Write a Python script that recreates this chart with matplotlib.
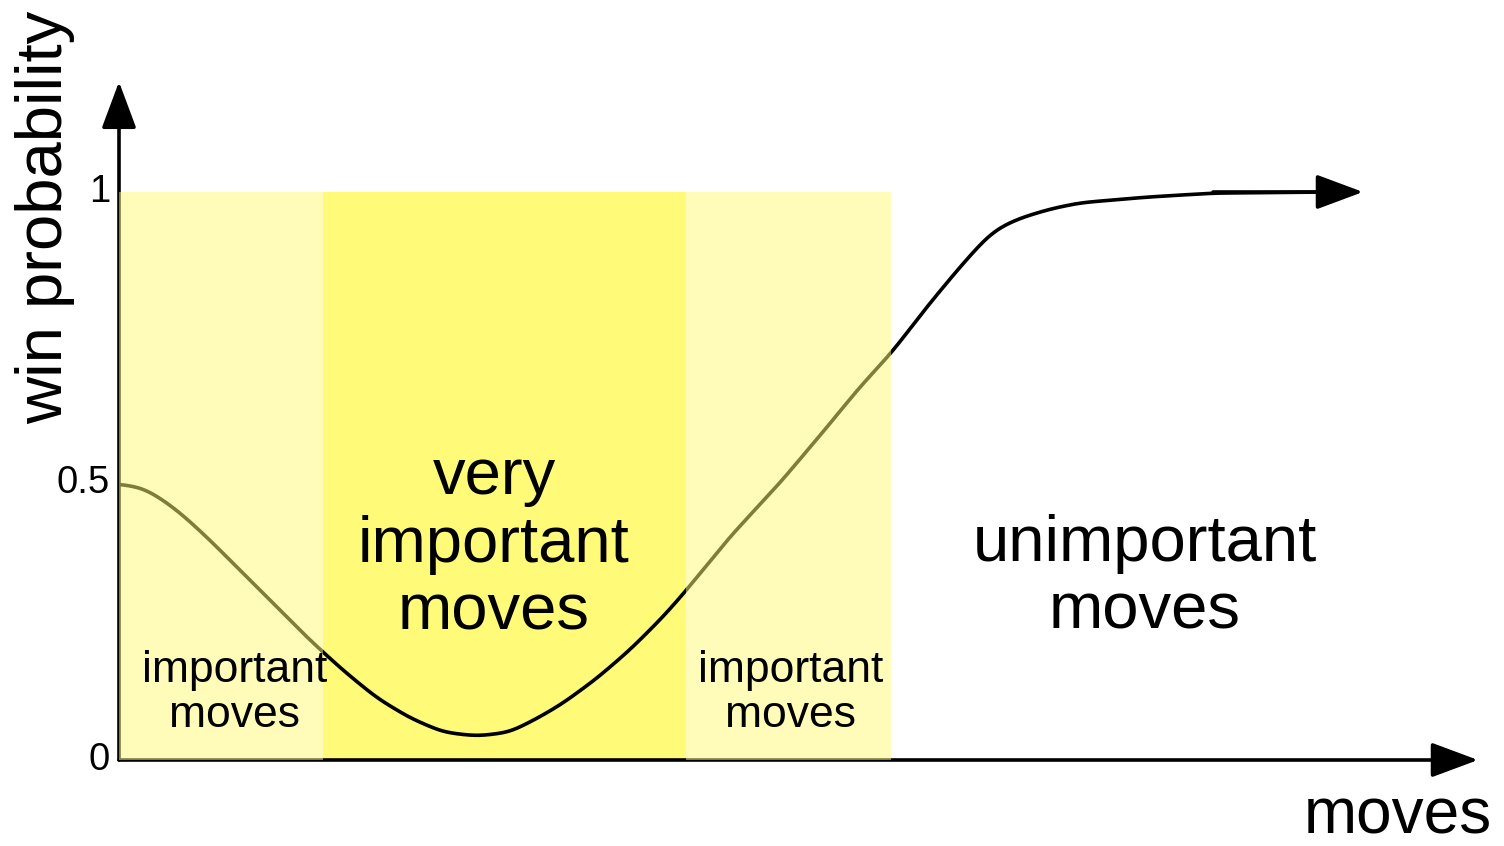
import matplotlib

matplotlib.use("Agg")
import matplotlib.pyplot as plt
import numpy as np

# curve: moves (arbitrary units) vs win probability
moves = [0, 0.24, 0.44, 0.64, 0.91, 1.24, 1.58, 1.91, 2.24, 2.58, 2.91, 3.24,
         3.58, 3.91, 4.21, 4.44, 4.78, 5.11, 5.44, 5.66, 6.11, 6.61, 7.08,
         7.41, 7.73, 8.08, 8.41, 8.68, 8.81, 9.01, 9.31, 9.61, 10.28, 10.94,
         12.08]
win_prob = [0.486, 0.479, 0.458, 0.431, 0.387, 0.329, 0.269, 0.211, 0.158,
            0.109, 0.074, 0.049, 0.042, 0.049, 0.076, 0.100, 0.144, 0.194,
            0.252, 0.296, 0.393, 0.488, 0.586, 0.657, 0.718, 0.798, 0.868,
            0.921, 0.938, 0.954, 0.970, 0.981, 0.991, 0.998, 1.0]
curve_tip = 12.44

# shaded phases: (start, end)
side_regions = [(0.0, 2.04), (5.67, 7.72)]
core_region = (2.04, 5.67)
region_top = 1.0

ytick_pos = [0, 0.487, 1]
ytick_labels = ["0", "0.5", "1"]

x_axis_end = 13.59
y_axis_end = 1.194

YELLOW = "#FFFA77"
FONT = "Liberation Sans"


def smooth_curve(x, y, step=0.005, sigma=0.09):
    """Dense resample of the read points, lightly smoothed (rendering only)."""
    xs = np.arange(x[0], x[-1] + step / 2, step)
    ys = np.interp(xs, x, y)
    half = int(4 * sigma / step)
    k = np.exp(-0.5 * (np.arange(-half, half + 1) * step / sigma) ** 2)
    k /= k.sum()
    padded = np.concatenate([np.full(half, ys[0]), ys, np.full(half, ys[-1])])
    return xs, np.convolve(padded, k, mode="valid")


fig = plt.figure(figsize=(15.04, 8.46), dpi=100)
ax = fig.add_axes([0, 0, 1, 1])
ax.set_xlim(-1.19, 13.85)
ax.set_ylim(-0.1514, 1.338)
ax.axis("off")

# bright core band sits under the curve, pale bands wash over it
ax.bar(core_region[0], region_top, width=core_region[1] - core_region[0],
       align="edge", color=YELLOW, zorder=1, linewidth=0)
for x0, x1 in side_regions:
    ax.bar(x0, region_top, width=x1 - x0, align="edge", color=YELLOW,
           alpha=0.5, zorder=3, linewidth=0)

arrow_kw = dict(arrowstyle="-|>,head_length=2.9,head_width=1.08",
                color="black", lw=2.6, shrinkA=0, shrinkB=0,
                mutation_scale=10)
ax.annotate("", xy=(x_axis_end, 0), xytext=(0, 0), arrowprops=arrow_kw,
            zorder=2)
ax.annotate("", xy=(0, y_axis_end), xytext=(0, 0), arrowprops=arrow_kw,
            zorder=2)

sx, sy = smooth_curve(moves, win_prob)
ax.plot(sx, sy, color="black", lw=2.6, solid_capstyle="butt", zorder=2)
ax.annotate("", xy=(curve_tip, win_prob[-1]),
            xytext=(moves[-2], win_prob[-1]), arrowprops=arrow_kw, zorder=2)

for pos, lab in zip(ytick_pos, ytick_labels):
    ax.text(-0.09, pos, lab, ha="right", va="center", fontsize=27.5,
            family=FONT, zorder=4)

ax.text(-0.74, 0.956, "win probability", rotation=90, ha="center",
        va="center", fontsize=47, family=FONT, zorder=4)
ax.text(12.79, -0.130, "moves", ha="center", va="baseline", fontsize=46,
        family=FONT, zorder=4)

ax.text(3.75, 0.379, "very\nimportant\nmoves", ha="center", va="center",
        fontsize=47, family=FONT, linespacing=1.16, zorder=4)
ax.text(10.26, 0.320, "unimportant\nmoves", ha="center", va="center",
        fontsize=47, family=FONT, linespacing=1.16, zorder=4)
for cx in (1.16, 6.72):
    ax.text(cx, 0.118, "important\nmoves", ha="center", va="center",
            fontsize=32, family=FONT, linespacing=1.15, zorder=4)

fig.savefig("out.png", dpi=100)
